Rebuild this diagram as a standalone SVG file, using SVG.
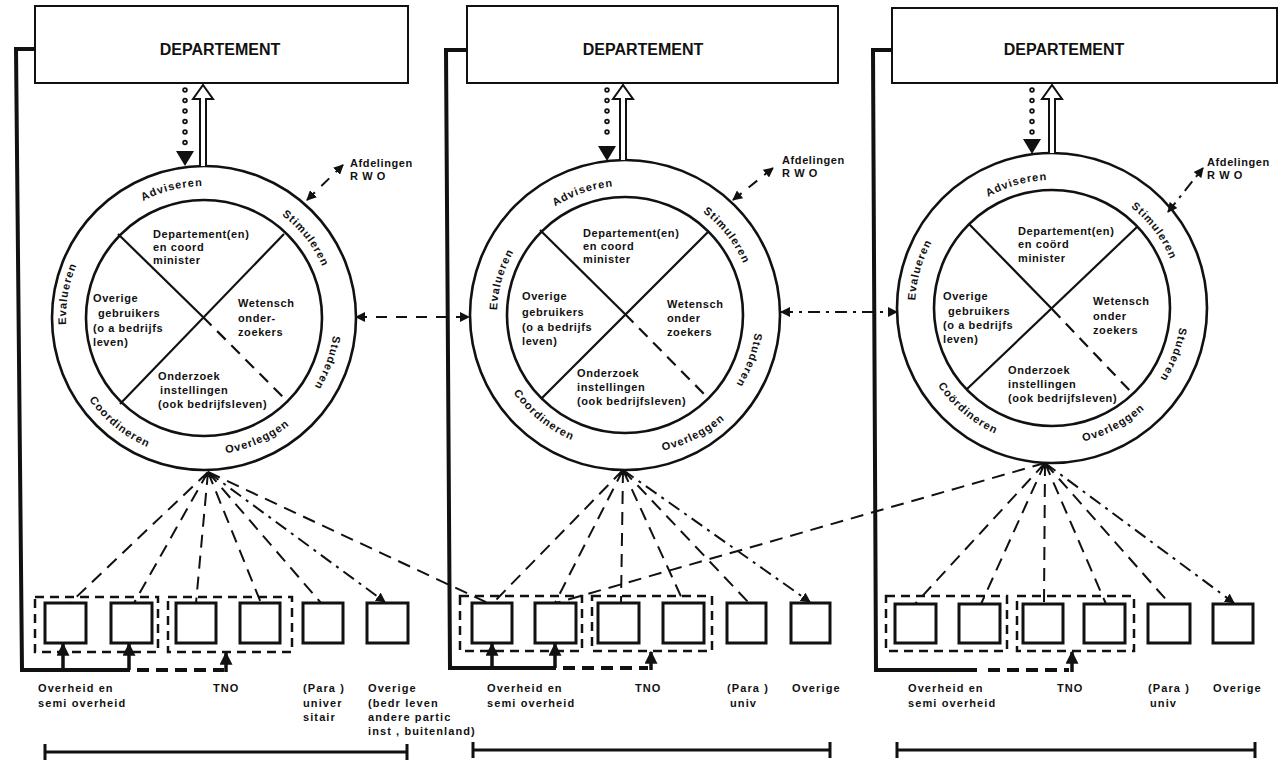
<svg xmlns="http://www.w3.org/2000/svg" width="1283" height="762" viewBox="0 0 1283 762">
<defs>
<style>
.dept{fill:#fff;stroke:#111;stroke-width:2}
.dtxt{font-family:"Liberation Sans",Arial,sans-serif;font-weight:bold;font-size:16px;fill:#111;text-anchor:middle}
.ring{fill:none;stroke:#111;stroke-width:2.6}
.cross{stroke:#111;stroke-width:2.2;fill:none}
.crossd{stroke:#111;stroke-width:2.2;fill:none;stroke-dasharray:12 8}
.t{font-family:"Liberation Sans",Arial,sans-serif;font-weight:bold;font-size:11px;letter-spacing:.6px;fill:#111}
.lb{font-family:"Liberation Sans",Arial,sans-serif;font-weight:bold;font-size:11px;letter-spacing:1.1px;fill:#111}
.rl{font-family:"Liberation Sans",Arial,sans-serif;font-weight:bold;font-size:11px;letter-spacing:1px;fill:#111;text-anchor:middle}
.fb{fill:none;stroke:#111;stroke-width:4}
.fbd{fill:none;stroke:#111;stroke-width:4;stroke-dasharray:12 7}
.box{fill:#fff;stroke:#111;stroke-width:3}
.grp{fill:none;stroke:#111;stroke-width:2.5;stroke-dasharray:9 6}
.fan{fill:none;stroke:#111;stroke-width:2;stroke-dasharray:13 8}
.fandd{fill:none;stroke:#111;stroke-width:2;stroke-dasharray:13 6 3 6}
.link{fill:none;stroke:#111;stroke-width:2;stroke-dasharray:11 9}
.linkdd{fill:none;stroke:#111;stroke-width:2;stroke-dasharray:12 6 3 6}
.up{fill:none;stroke:#111;stroke-width:3.5}
.dots{fill:none;stroke:#111;stroke-width:5.5;stroke-linecap:round;stroke-dasharray:0 10.5}
.doth{fill:none;stroke:#fff;stroke-width:2;stroke-linecap:round;stroke-dasharray:0 10.5}
.hollow{fill:#fff;stroke:#111;stroke-width:2}
.brk{fill:none;stroke:#111;stroke-width:3}
</style>
<marker id="ah" viewBox="0 0 10 10" refX="9" refY="5" markerWidth="13" markerHeight="13" markerUnits="userSpaceOnUse" orient="auto-start-reverse">
<path d="M0,0 L10,5 L0,10 z" fill="#111"/>
</marker>
<marker id="ahs" viewBox="0 0 10 10" refX="9" refY="5" markerWidth="10" markerHeight="10" markerUnits="userSpaceOnUse" orient="auto-start-reverse">
<path d="M0,0 L10,5 L0,10 z" fill="#111"/>
</marker>
<path id="dnHead" d="M-9,-15 L9,-15 L0,0 z" fill="#111"/>
<!-- ring label baselines, circle 1 -->
<path id="c1a" d="M104.4 231.4 A132 132 0 0 1 251.3 194.8"/>
<path id="c1b" d="M241.7 194.6 A129 129 0 0 1 332.8 311.3"/>
<path id="c1c" d="M329.6 284.4 A130 130 0 0 1 278.6 424.5"/>
<path id="c1d" d="M177.9 452.5 A137 137 0 0 0 321.4 388.6"/>
<path id="c1e" d="M68.5 356.9 A141 141 0 0 0 194.2 458.7"/>
<path id="c1f" d="M78.9 376.3 A138 138 0 0 1 106.4 220.4"/>
<!-- circle 2 -->
<path id="c2a" d="M520.6 239.2 A129 129 0 0 1 660.6 191.0"/>
<path id="c2b" d="M662.7 191.6 A129 129 0 0 1 753.8 308.3"/>
<path id="c2c" d="M751.5 281.1 A131 131 0 0 1 700.1 422.3"/>
<path id="c2d" d="M620.3 453.0 A138 138 0 0 0 752.2 386.4"/>
<path id="c2e" d="M494.3 352.5 A136 136 0 0 0 615.5 450.7"/>
<path id="c2f" d="M504.0 356.7 A128 128 0 0 1 544.4 215.5"/>
<!-- circle 3 -->
<path id="c3a" d="M952.5 227.4 A128 128 0 0 1 1093.7 187.0"/>
<path id="c3b" d="M1091.6 186.3 A128 128 0 0 1 1179.9 303.5"/>
<path id="c3c" d="M1177.2 276.8 A129 129 0 0 1 1124.1 414.9"/>
<path id="c3d" d="M1035.3 444.0 A137 137 0 0 0 1174.1 370.2"/>
<path id="c3e" d="M918.7 343.7 A138 138 0 0 0 1040.0 445.5"/>
<path id="c3f" d="M922.5 352.6 A137 137 0 0 1 965.8 201.5"/>
</defs>

<rect width="1283" height="762" fill="#fff"/>

<!-- ===== Panel 1 ===== -->
<g id="dept1">
<rect class="dept" x="35" y="6" width="373" height="77"/>
<text class="dtxt" x="220" y="55">DEPARTEMENT</text>
</g>
<g id="wheel1">
<circle class="ring" cx="204" cy="318" r="152"/>
<circle class="ring" cx="204" cy="318" r="118"/>
<line class="cross" x1="118" y1="234" x2="203" y2="317"/>
<line class="crossd" x1="203" y1="317" x2="284" y2="398"/>
<line class="cross" x1="284" y1="234" x2="120" y2="404"/>
<text class="rl"><textPath href="#c1a" startOffset="50%">Adviseren</textPath></text>
<text class="rl"><textPath href="#c1b" startOffset="50%">Stimuleren</textPath></text>
<text class="rl"><textPath href="#c1c" startOffset="50%">Studeren</textPath></text>
<text class="rl"><textPath href="#c1d" startOffset="50%">Overleggen</textPath></text>
<text class="rl"><textPath href="#c1e" startOffset="50%">Coordineren</textPath></text>
<text class="rl"><textPath href="#c1f" startOffset="50%">Evalueren</textPath></text>
<text class="t" x="153" y="238">Departement(en)</text>
<text class="t" x="153" y="251">en coord</text>
<text class="t" x="153" y="264">minister</text>
<text class="t" x="93" y="302">Overige</text>
<text class="t" x="98" y="317">gebruikers</text>
<text class="t" x="93" y="332">(o a bedrijfs</text>
<text class="t" x="93" y="346">leven)</text>
<text class="t" x="238" y="307">Wetensch</text>
<text class="t" x="238" y="322">onder-</text>
<text class="t" x="238" y="336">zoekers</text>
<text class="t" x="158" y="380">Onderzoek</text>
<text class="t" x="160" y="394">instellingen</text>
<text class="t" x="158" y="408">(ook bedrijfsleven)</text>
</g>
<g id="afd1">
<text class="t" x="350" y="167">Afdelingen</text>
<text class="t" x="350" y="180">R W O</text>
</g>
<g id="units1">
<rect class="grp" x="35" y="597" width="123" height="55"/>
<rect class="grp" x="168" y="597" width="124" height="55"/>
<rect class="box" x="45" y="603" width="41" height="40"/>
<rect class="box" x="111" y="603" width="41" height="40"/>
<rect class="box" x="176" y="603" width="40" height="40"/>
<rect class="box" x="240" y="603" width="40" height="40"/>
<rect class="box" x="303" y="603" width="40" height="40"/>
<rect class="box" x="367" y="603" width="41" height="40"/>
</g>
<g id="labels1">
<text class="lb" x="38" y="692">Overheid en</text>
<text class="lb" x="38" y="707">semi overheid</text>
<text class="lb" x="213" y="692">TNO</text>
<text class="lb" x="303" y="692">(Para )</text>
<text class="lb" x="303" y="707">univer</text>
<text class="lb" x="303" y="721">sitair</text>
<text class="lb" x="368" y="692">Overige</text>
<text class="lb" x="368" y="707">(bedr leven</text>
<text class="lb" x="368" y="721">andere partic</text>
<text class="lb" x="368" y="735">inst , buitenland)</text>
</g>
<g id="bracket1">
<path class="brk" d="M45 752 H407 M45 744 V760 M407 744 V760"/>
</g>

<!-- ===== Panel 2 ===== -->
<g id="dept2">
<rect class="dept" x="467" y="6" width="371" height="77"/>
<text class="dtxt" x="643" y="55">DEPARTEMENT</text>
</g>
<g id="wheel2">
<circle class="ring" cx="625" cy="315" r="155"/>
<circle class="ring" cx="625" cy="315" r="118"/>
<line class="cross" x1="540" y1="230" x2="625" y2="314"/>
<line class="crossd" x1="625" y1="314" x2="708" y2="398"/>
<line class="cross" x1="708" y1="232" x2="542" y2="398"/>
<text class="rl"><textPath href="#c2a" startOffset="50%">Adviseren</textPath></text>
<text class="rl"><textPath href="#c2b" startOffset="50%">Stimuleren</textPath></text>
<text class="rl"><textPath href="#c2c" startOffset="50%">Studeren</textPath></text>
<text class="rl"><textPath href="#c2d" startOffset="50%">Overleggen</textPath></text>
<text class="rl"><textPath href="#c2e" startOffset="50%">Coordineren</textPath></text>
<text class="rl"><textPath href="#c2f" startOffset="50%">Evalueren</textPath></text>
<text class="t" x="583" y="237">Departement(en)</text>
<text class="t" x="583" y="250">en coord</text>
<text class="t" x="583" y="263">minister</text>
<text class="t" x="522" y="300">Overige</text>
<text class="t" x="522" y="316">gebruikers</text>
<text class="t" x="522" y="331">(o a bedrijfs</text>
<text class="t" x="522" y="345">leven)</text>
<text class="t" x="667" y="308">Wetensch</text>
<text class="t" x="667" y="322">onder</text>
<text class="t" x="667" y="336">zoekers</text>
<text class="t" x="577" y="377">Onderzoek</text>
<text class="t" x="577" y="391">instellingen</text>
<text class="t" x="577" y="405">(ook bedrijfsleven)</text>
</g>
<g id="afd2">
<text class="t" x="782" y="164">Afdelingen</text>
<text class="t" x="782" y="177">R W O</text>
</g>
<g id="units2">
<rect class="grp" x="460" y="596" width="122" height="55"/>
<rect class="grp" x="592" y="596" width="120" height="55"/>
<rect class="box" x="472" y="603" width="40" height="40"/>
<rect class="box" x="535" y="603" width="41" height="40"/>
<rect class="box" x="598" y="603" width="41" height="40"/>
<rect class="box" x="663" y="603" width="41" height="40"/>
<rect class="box" x="727" y="603" width="39" height="40"/>
<rect class="box" x="791" y="603" width="39" height="40"/>
</g>
<g id="labels2">
<text class="lb" x="487" y="692">Overheid en</text>
<text class="lb" x="487" y="707">semi overheid</text>
<text class="lb" x="635" y="692">TNO</text>
<text class="lb" x="727" y="692">(Para )</text>
<text class="lb" x="730" y="707">univ</text>
<text class="lb" x="792" y="692">Overige</text>
</g>
<g id="bracket2">
<path class="brk" d="M473 750 H830 M473 742 V758 M830 742 V758"/>
</g>

<!-- ===== Panel 3 ===== -->
<g id="dept3">
<rect class="dept" x="892" y="8" width="385" height="75"/>
<text class="dtxt" x="1064" y="55">DEPARTEMENT</text>
</g>
<g id="wheel3">
<circle class="ring" cx="1052" cy="308" r="155"/>
<circle class="ring" cx="1052" cy="308" r="118"/>
<line class="cross" x1="969" y1="224" x2="1052" y2="309"/>
<line class="crossd" x1="1052" y1="309" x2="1133" y2="394"/>
<line class="cross" x1="1137" y1="227" x2="967" y2="389"/>
<text class="rl"><textPath href="#c3a" startOffset="50%">Adviseren</textPath></text>
<text class="rl"><textPath href="#c3b" startOffset="50%">Stimuleren</textPath></text>
<text class="rl"><textPath href="#c3c" startOffset="50%">Studeren</textPath></text>
<text class="rl"><textPath href="#c3d" startOffset="50%">Overleggen</textPath></text>
<text class="rl"><textPath href="#c3e" startOffset="50%">Coördineren</textPath></text>
<text class="rl"><textPath href="#c3f" startOffset="50%">Evalueren</textPath></text>
<text class="t" x="1018" y="235">Departement(en)</text>
<text class="t" x="1018" y="248">en coörd</text>
<text class="t" x="1018" y="262">minister</text>
<text class="t" x="943" y="300">Overige</text>
<text class="t" x="948" y="315">gebruikers</text>
<text class="t" x="943" y="329">(o a bedrijfs</text>
<text class="t" x="943" y="343">leven)</text>
<text class="t" x="1093" y="305">Wetensch</text>
<text class="t" x="1093" y="320">onder</text>
<text class="t" x="1093" y="334">zoekers</text>
<text class="t" x="1008" y="374">Onderzoek</text>
<text class="t" x="1008" y="388">instellingen</text>
<text class="t" x="1008" y="402">(ook bedrijfsleven)</text>
</g>
<g id="afd3">
<text class="t" x="1207" y="166">Afdelingen</text>
<text class="t" x="1207" y="179">R W O</text>
</g>
<g id="units3">
<rect class="grp" x="886" y="596" width="121" height="55"/>
<rect class="grp" x="1017" y="596" width="117" height="55"/>
<rect class="box" x="895" y="604" width="41" height="39"/>
<rect class="box" x="959" y="604" width="41" height="39"/>
<rect class="box" x="1023" y="604" width="40" height="39"/>
<rect class="box" x="1084" y="604" width="41" height="39"/>
<rect class="box" x="1148" y="604" width="42" height="39"/>
<rect class="box" x="1213" y="604" width="40" height="39"/>
</g>
<g id="labels3">
<text class="lb" x="908" y="692">Overheid en</text>
<text class="lb" x="908" y="707">semi overheid</text>
<text class="lb" x="1057" y="692">TNO</text>
<text class="lb" x="1148" y="692">(Para )</text>
<text class="lb" x="1150" y="707">univ</text>
<text class="lb" x="1213" y="692">Overige</text>
</g>
<g id="bracket3">
<path class="brk" d="M897 750 H1255 M897 742 V758 M1255 742 V758"/>
</g>

<!-- ===== Connectors ===== -->
<g id="connectors">
<!-- department to wheel (dotted) and wheel to department (hollow) -->
<line class="dots" x1="185" y1="90" x2="185" y2="146"/>
<line class="doth" x1="185" y1="90" x2="185" y2="146"/>
<use href="#dnHead" x="185" y="166"/>
<path class="hollow" d="M200 166 V99 H193 L203 85 L213 99 H206 V166"/>

<line class="dots" x1="607" y1="90" x2="607" y2="142"/>
<line class="doth" x1="607" y1="90" x2="607" y2="142"/>
<use href="#dnHead" x="607" y="161"/>
<path class="hollow" d="M620 160 V99 H613 L623 85 L633 99 H626 V160"/>

<line class="dots" x1="1032" y1="90" x2="1032" y2="136"/>
<line class="doth" x1="1032" y1="90" x2="1032" y2="136"/>
<use href="#dnHead" x="1032" y="154"/>
<path class="hollow" d="M1049 153 V99 H1042 L1052 85 L1062 99 H1055 V153"/>

<!-- links to Afdelingen RWO -->
<line class="link" x1="307" y1="200" x2="343" y2="165" marker-start="url(#ahs)" marker-end="url(#ahs)"/>
<line class="link" x1="733" y1="200" x2="773" y2="168" marker-start="url(#ahs)" marker-end="url(#ahs)"/>
<line class="linkdd" x1="1168" y1="212" x2="1203" y2="168" marker-start="url(#ahs)" marker-end="url(#ahs)"/>

<!-- wheel to wheel -->
<line class="link" x1="356" y1="317" x2="469" y2="317" marker-start="url(#ahs)" marker-end="url(#ahs)"/>
<line class="linkdd" x1="781" y1="312" x2="897" y2="312" marker-start="url(#ahs)" marker-end="url(#ahs)"/>

<!-- feedback loops -->
<path class="fb" d="M35 49 H16 L22 670 H130"/>
<path class="fbd" d="M137 670 H224"/>
<line class="up" x1="63" y1="670" x2="63" y2="644" marker-end="url(#ah)"/>
<line class="up" x1="129" y1="670" x2="129" y2="644" marker-end="url(#ah)"/>
<line class="up" x1="226" y1="672" x2="226" y2="653" marker-end="url(#ah)"/>

<path class="fb" d="M467 50 H446 L450 668 H556"/>
<path class="fbd" d="M563 668 H648"/>
<line class="up" x1="492" y1="668" x2="492" y2="644" marker-end="url(#ah)"/>
<line class="up" x1="555" y1="668" x2="555" y2="644" marker-end="url(#ah)"/>
<line class="up" x1="651" y1="670" x2="651" y2="652" marker-end="url(#ah)"/>

<path class="fb" d="M892 50 H873 L876 670 H977"/>
<path class="fbd" d="M988 670 H1069"/>
<line class="up" x1="1072" y1="672" x2="1072" y2="652" marker-end="url(#ah)"/>

<!-- fans from wheel 1 -->
<path class="fan" d="M208 472 L70 603 M208 472 L134 603 M208 472 L196 603 M208 472 L261 603 M208 472 L321 603"/>
<line class="fandd" x1="208" y1="472" x2="385" y2="602" marker-end="url(#ahs)"/>
<line class="fan" x1="208" y1="472" x2="488" y2="603"/>
<!-- fans from wheel 2 -->
<path class="fan" d="M623 470 L493 603 M623 470 L555 603 M623 470 L621 603 M623 470 L684 603 M623 470 L749 603"/>
<line class="fandd" x1="623" y1="470" x2="810" y2="602" marker-end="url(#ahs)"/>
<!-- fans from wheel 3 -->
<path class="fan" d="M1045 463 L915 604 M1045 463 L981 604 M1045 463 L1044 604 M1045 463 L1106 604 M1045 463 L1170 604"/>
<line class="fandd" x1="1045" y1="463" x2="1234" y2="603" marker-end="url(#ahs)"/>
<line class="fan" x1="1045" y1="463" x2="556" y2="603"/>
</g>
</svg>
